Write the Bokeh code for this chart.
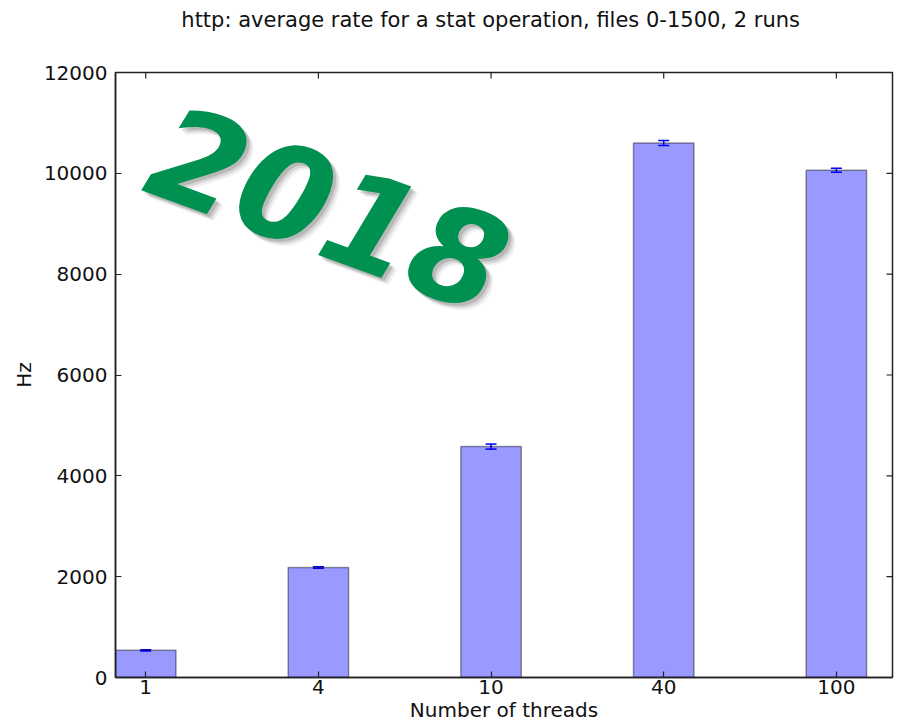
from bokeh.plotting import figure
from bokeh.models import Range1d, FixedTicker, Label, Whisker, ColumnDataSource, TeeHead, LinearAxis
from bokeh.embed import file_html
from bokeh.resources import INLINE

threads = ["1", "4", "10", "40", "100"]
rate_hz = [540, 2180, 4580, 10600, 10060]
rate_err = [12, 15, 50, 50, 40]
y_ticks = [0, 2000, 4000, 6000, 8000, 10000, 12000]
title_text = "http: average rate for a stat operation, files 0-1500, 2 runs"
watermark = "2018"

FONT = "DejaVu Sans"
W, H = 904, 724
ML, MR, MT, MB = 115, 12, 72, 47
bar_width = 0.35
idx = list(range(len(threads)))
left = [i - bar_width / 2 for i in idx]
right = [i + bar_width / 2 for i in idx]
x0, x1 = -bar_width / 2, len(threads) - 1 + 0.325
y0, y1 = 0, 12000

src = ColumnDataSource(dict(
    x=idx, left=left, right=right, top=rate_hz,
    upper=[v + e for v, e in zip(rate_hz, rate_err)],
    lower=[v - e for v, e in zip(rate_hz, rate_err)],
))

p = figure(width=W, height=H, output_backend="svg", toolbar_location=None, title_location=None,
           x_range=Range1d(x0, x1), y_range=Range1d(y0, y1),
           min_border_left=ML, min_border_right=MR, min_border_top=MT, min_border_bottom=MB)

fw, fh = W - ML - MR, H - MT - MB

p.xgrid.visible = False
p.ygrid.visible = False
p.outline_line_color = "#222222"
p.outline_line_width = 1.5

p.quad(left="left", right="right", top="top", bottom=0, source=src,
       fill_color="blue", fill_alpha=0.4, line_color="black", line_alpha=0.4, line_width=1.5)

w = Whisker(base="x", upper="upper", lower="lower", source=src, line_color="blue", line_width=1.5,
            upper_head=TeeHead(size=11, line_color="blue", line_width=1.5),
            lower_head=TeeHead(size=11, line_color="blue", line_width=1.5))
p.add_layout(w)

TICK = 6
for ax in (p.xaxis[0], p.yaxis[0]):
    ax.major_tick_in = TICK
    ax.major_tick_out = 0
    ax.minor_tick_in = 0
    ax.minor_tick_out = 0
    ax.axis_line_color = "#222222"
    ax.axis_line_width = 1.5
    ax.major_tick_line_color = "#222222"
    ax.major_tick_line_width = 1.2
    ax.major_label_text_font = FONT
    ax.major_label_text_font_size = "20px"
    ax.major_label_text_color = "#111111"
    ax.axis_label_text_font = FONT
    ax.axis_label_text_font_size = "20px"
    ax.axis_label_text_font_style = "normal"
    ax.axis_label_text_color = "#111111"

p.xaxis.ticker = FixedTicker(ticks=idx)
p.xaxis.major_label_overrides = {i: t for i, t in zip(idx, threads)}
p.xaxis.axis_label = "Number of threads"
p.xaxis.major_label_standoff = 2
p.xaxis.axis_label_standoff = 1
p.yaxis.ticker = FixedTicker(ticks=y_ticks)
p.yaxis.axis_label = "Hz"
p.yaxis.major_label_standoff = 8

# chart title, carried by a tick-less top axis so it can sit high above the frame;
# trailing no-break spaces nudge the centred text slightly left, as in the original
title_ax = LinearAxis(ticker=FixedTicker(ticks=[]), axis_label=title_text + "\u00a0" * 4)
title_ax.axis_line_color = None
title_ax.major_tick_line_color = None
title_ax.minor_tick_line_color = None
title_ax.axis_label_standoff = 41
title_ax.axis_label_text_font = FONT
title_ax.axis_label_text_font_size = "21px"
title_ax.axis_label_text_font_style = "normal"
title_ax.axis_label_text_color = "#111111"
p.add_layout(title_ax, "above")

# inward ticks on the top and right spines (matplotlib style)
dy = TICK * (y1 - y0) / fh
dx = TICK * (x1 - x0) / fw
p.segment(x0=idx, y0=[y1] * len(idx), x1=idx, y1=[y1 - dy] * len(idx),
          line_color="#222222", line_width=1.2)
p.segment(x0=[x1] * len(y_ticks), y0=y_ticks, x1=[x1 - dx] * len(y_ticks), y1=y_ticks,
          line_color="#222222", line_width=1.2)

# decorative watermark
for ox, oy, a in [(7, -7, 0.06), (5, -5, 0.1), (3, -3, 0.14)]:
    p.add_layout(Label(x=214 + ox, y=470 + oy, x_units="screen", y_units="screen", text=watermark,
                       angle=-0.35, text_align="center", text_baseline="middle",
                       text_font=FONT, text_font_style="bold italic", text_font_size="132px",
                       text_color="black", text_alpha=a))
p.add_layout(Label(x=214, y=470, x_units="screen", y_units="screen", text=watermark,
                   angle=-0.35, text_align="center", text_baseline="middle",
                   text_font=FONT, text_font_style="bold italic", text_font_size="132px",
                   text_color="#009150"))

open("out.html", "w").write(file_html(p, INLINE))
